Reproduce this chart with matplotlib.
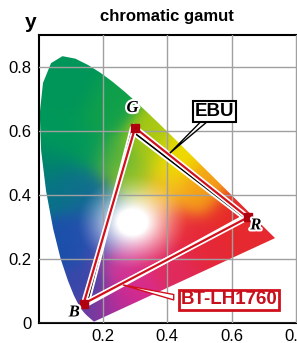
import numpy as np
import matplotlib
matplotlib.use("Agg")
import matplotlib.pyplot as plt
from matplotlib.path import Path
from matplotlib.patches import PathPatch, Polygon
import matplotlib.patheffects as pe

# CIE 1931 spectral locus (380..700 nm, 5 nm steps)
locus_x = [0.1741, 0.1740, 0.1738, 0.1736, 0.1733, 0.1730, 0.1726, 0.1721, 0.1714, 0.1703,
           0.1689, 0.1669, 0.1644, 0.1611, 0.1566, 0.1510, 0.1440, 0.1355, 0.1241, 0.1096,
           0.0913, 0.0687, 0.0454, 0.0235, 0.0082, 0.0039, 0.0139, 0.0389, 0.0743, 0.1142,
           0.1547, 0.1929, 0.2296, 0.2658, 0.3016, 0.3373, 0.3731, 0.4087, 0.4441, 0.4788,
           0.5125, 0.5448, 0.5752, 0.6029, 0.6270, 0.6482, 0.6658, 0.6801, 0.6915, 0.7006,
           0.7079, 0.7140, 0.7190, 0.7230, 0.7260, 0.7283, 0.7300, 0.7311, 0.7320, 0.7327,
           0.7334, 0.7340, 0.7344, 0.7346, 0.7347]
locus_y = [0.0050, 0.0050, 0.0049, 0.0049, 0.0048, 0.0048, 0.0048, 0.0048, 0.0051, 0.0058,
           0.0069, 0.0086, 0.0109, 0.0138, 0.0177, 0.0227, 0.0297, 0.0399, 0.0578, 0.0868,
           0.1327, 0.2007, 0.2950, 0.4127, 0.5384, 0.6548, 0.7502, 0.8120, 0.8338, 0.8262,
           0.8059, 0.7816, 0.7543, 0.7243, 0.6923, 0.6589, 0.6245, 0.5896, 0.5547, 0.5202,
           0.4866, 0.4544, 0.4242, 0.3965, 0.3725, 0.3514, 0.3340, 0.3197, 0.3083, 0.2993,
           0.2920, 0.2859, 0.2809, 0.2770, 0.2740, 0.2717, 0.2700, 0.2689, 0.2680, 0.2673,
           0.2666, 0.2660, 0.2656, 0.2654, 0.2653]

# primaries: R, G, B
ebu_x = [0.64, 0.29, 0.15]
ebu_y = [0.33, 0.60, 0.06]
lh_x = [0.65, 0.30, 0.14]
lh_y = [0.33, 0.61, 0.06]
prim_names = ["R", "G", "B"]

xticks = [0.2, 0.4, 0.6, 0.8]
yticks = [0, 0.2, 0.4, 0.6, 0.8]

# colour stops for the painted gamut (xy position -> rgb)
stop_x = [0.05, 0.10, 0.05, 0.15, 0.20, 0.24, 0.33, 0.42, 0.50, 0.60, 0.68, 0.50,
          0.42, 0.30, 0.24, 0.17, 0.14, 0.08, 0.14, 0.05, 0.12, 0.03,
          0.285, 0.38, 0.40, 0.35, 0.26, 0.19, 0.19]
stop_y = [0.80, 0.70, 0.58, 0.55, 0.65, 0.52, 0.56, 0.50, 0.42, 0.33, 0.28, 0.25,
          0.18, 0.11, 0.05, 0.01, 0.12, 0.25, 0.28, 0.42, 0.42, 0.50,
          0.45, 0.40, 0.30, 0.21, 0.19, 0.27, 0.37]
stop_c = ["#00965a", "#00965a", "#009a5a", "#00985a", "#10a04a", "#50b040", "#a8c814",
          "#f0dc00", "#f5a018", "#e62a2a", "#e62a32", "#e62838", "#e02a5a", "#d82a8c",
          "#b82c9a", "#6e3ca0", "#3848aa", "#1a50aa", "#2050ac", "#087288", "#10708c",
          "#00846a",
          "#98c428", "#f5be28", "#ea343c", "#e2306e", "#d23c9c", "#3c50b4", "#14689a"]

fig = plt.figure(figsize=(2.97, 3.43), dpi=100)
ax = fig.add_axes([38.5 / 297, 20 / 343, 264 / 297, 288 / 343])
ax.set_xlim(0, 0.82)
ax.set_ylim(0, 0.9)

# smooth colour field from the stops, white blob round the white point
xs = np.linspace(0, 0.82, 400)
ys = np.linspace(0, 0.9, 400)
X, Y = np.meshgrid(xs, ys)
cols = np.array([matplotlib.colors.to_rgb(c) for c in stop_c])
d2 = (X[..., None] - np.array(stop_x)) ** 2 + (Y[..., None] - np.array(stop_y)) ** 2
w = np.exp(-d2 / (2 * 0.045 ** 2)) + 1e-12
rgb = (w[..., None] * cols).sum(axis=2) / w.sum(axis=2)[..., None]
r = np.sqrt(((X - 0.29) / 1.15) ** 2 + (Y - 0.315) ** 2)
wb = np.clip(1 - (r - 0.04) / 0.11, 0, 1) ** 1.4
rgb = rgb * (1 - wb[..., None]) + wb[..., None]

verts = list(zip(locus_x, locus_y)) + [(locus_x[0], locus_y[0])]
clip = PathPatch(Path(verts, closed=True), facecolor="none", edgecolor="none",
                 transform=ax.transData)
ax.add_patch(clip)
im = ax.imshow(rgb, origin="lower", extent=(0, 0.82, 0, 0.9), aspect="auto",
               interpolation="bilinear", zorder=1)
im.set_clip_path(clip)

ax.set_xticks(xticks)
ax.set_yticks(yticks)
ax.set_xticklabels(["0.2", "0.4", "0.6", "0.8"])
ax.set_yticklabels(["0", "0.2", "0.4", "0.6", "0.8"])
ax.tick_params(axis="x", length=0, labelsize=12, pad=4)
ax.tick_params(axis="y", length=0, labelsize=12, pad=5)
for lab in ax.get_xticklabels() + ax.get_yticklabels():
    lab.set_family("Liberation Sans")
ax.grid(True, color="#a0a0a0", lw=1.0, zorder=2)
ax.set_axisbelow(False)
for s in ["left", "bottom", "top"]:
    ax.spines[s].set_linewidth(1.5)
ax.spines["right"].set_visible(False)

white = [pe.Stroke(linewidth=4, foreground="white"), pe.Normal()]
ax.plot(ebu_x + ebu_x[:1], ebu_y + ebu_y[:1], color="black", lw=1.2, zorder=4,
        path_effects=white, solid_joinstyle="miter")
ax.plot(lh_x + lh_x[:1], lh_y + lh_y[:1], color="#d0101c", lw=1.6, zorder=5,
        path_effects=white, solid_joinstyle="miter")
ax.plot(lh_x, lh_y, "s", color="#b00010", ms=6, zorder=6)

lab_pos = {"R": (0.675, 0.305), "G": (0.292, 0.672), "B": (0.111, 0.033)}
for n in prim_names:
    ax.text(*lab_pos[n], n, family="Liberation Serif", weight="bold", style="italic",
            fontsize=12, ha="center", va="center", zorder=7,
            path_effects=[pe.Stroke(linewidth=3, foreground="white"), pe.Normal()])

# EBU callout
ax.add_patch(Polygon([(0.505, 0.630), (0.525, 0.630), (0.408, 0.531)], closed=True,
                     facecolor="white", edgecolor="black", lw=1, zorder=8))
ax.text(0.547, 0.661, "EBU", family="Liberation Sans", weight="bold", fontsize=13.5,
        ha="center", va="center", zorder=9,
        bbox=dict(boxstyle="square,pad=0.1", facecolor="white", edgecolor="black", lw=1.5))

# BT-LH1760 callout
ax.add_patch(Polygon([(0.42, 0.089), (0.42, 0.072), (0.262, 0.119)], closed=True,
                     facecolor="white", edgecolor="#d0101c", lw=1, zorder=8))
ax.text(0.592, 0.072, "BT-LH1760", family="Liberation Sans", weight="bold", fontsize=13.5,
        color="#c8101c", ha="center", va="center", zorder=9,
        bbox=dict(boxstyle="square,pad=0.08", facecolor="white", edgecolor="#d0101c", lw=2))

fig.text(167 / 297, 1 - 17 / 343, "chromatic gamut", family="Liberation Sans",
         weight="bold", fontsize=12, ha="center", va="center")
fig.text(31 / 297, 1 - 23 / 343, "y", family="Liberation Sans", weight="bold",
         fontsize=15, ha="center", va="center")

fig.savefig("out.png", dpi=100)
